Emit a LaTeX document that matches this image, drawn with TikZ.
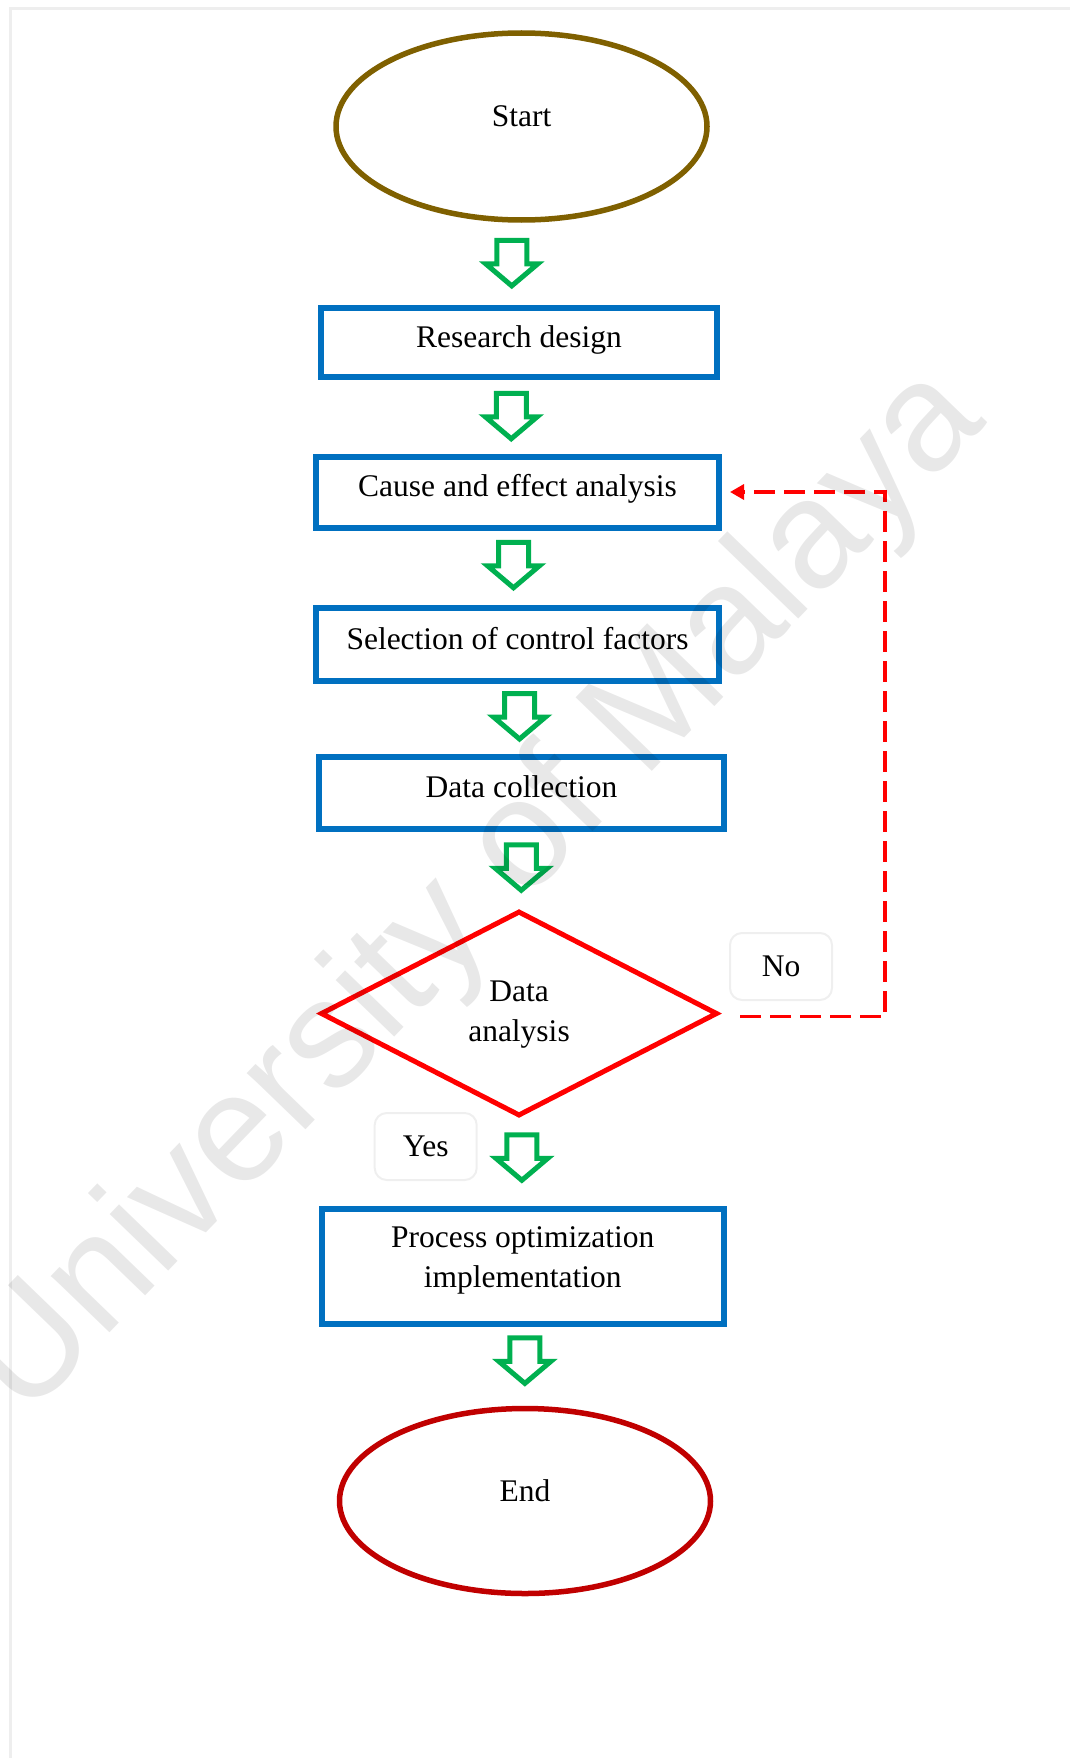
\documentclass[tikz,border=0pt]{standalone}
\usepackage{fontspec}
\setmainfont{Liberation Serif}
\newfontfamily\wmfont{Liberation Sans}
\usetikzlibrary{shapes.geometric, arrows.meta, positioning, calc}

\definecolor{startbrown}{HTML}{7F6000}
\definecolor{endred}{HTML}{C00000}
\definecolor{boxblue}{HTML}{0070C0}
\definecolor{arrgreen}{HTML}{00B050}
\definecolor{framegray}{HTML}{EEEEEE}
\definecolor{taggray}{HTML}{EFEFEF}

\tikzset{
  dnarrow/.pic={
    \draw[arrgreen, line width=5pt, line join=miter]
      (-15,-23.5) -- (15,-23.5) -- (15,0) -- (26,0) -- (0,22) -- (-26,0) -- (-15,0) -- cycle;
  }
}

\begin{document}
\begin{tikzpicture}[x=1pt, y=-1pt,
  every node/.style={font=\fontsize{31.5}{40}\selectfont},
  term/.style={ellipse, line width=5.5pt, minimum width=371pt, minimum height=187pt, inner sep=0pt, text height=25pt, text depth=24pt},
  box/.style={draw=boxblue, line width=6pt, minimum width=403pt, minimum height=72pt, inner sep=0pt, text height=24pt, text depth=15pt},
  tag/.style={draw=taggray, rounded corners=12pt, line width=2pt, minimum width=102pt, minimum height=67pt, inner sep=0pt},
  fback/.style={red, line width=3.3pt, dash pattern=on 21pt off 9pt, -{Triangle[length=14pt, width=15pt]}}]
\useasboundingbox (0,0) rectangle (1070,1758);
\draw[framegray, line width=3pt] (10,1758) -- (10,9) -- (1070,9);

\node (start) [term, draw=startbrown] at (521.5,126.5) {Start};
\node (design) [box, minimum width=396pt, minimum height=69pt] at (519,342.5) {Research design};
\node (cause) [box, minimum height=71pt] at (517.5,492) {Cause and effect analysis};
\node (select) [box, minimum height=73pt] at (517.5,644.5) {Selection of control factors};
\node (collect) [box, minimum width=405pt] at (521.5,793) {Data collection};
\node (analysis) [diamond, draw=red, line width=5pt, minimum width=397pt, minimum height=205pt, inner sep=0pt, aspect=2] at (519,1013.5) {\begin{tabular}{@{}c@{}}Data\\analysis\end{tabular}};
\node (no) [tag] at (781,966.5) {No};
\node (yes) [tag] at (425.7,1146.5) {Yes};
\node (impl) [box, minimum width=402pt, minimum height=115pt, text height=20pt, text depth=22pt] at (522.7,1266.5) {\begin{tabular}{@{}c@{}}Process optimization\\implementation\end{tabular}};
\node (finish) [term, draw=endred, minimum height=185pt] at (525,1501) {End};

\pic at ($(start.south)!.5!(design.north)+(-8.5,0)$) {dnarrow};
\pic at ($(design.south)!.5!(cause.north)+(-7,0)$) {dnarrow};
\pic at ($(cause.south)!.5!(select.north)+(-4,-2)$) {dnarrow};
\pic at ($(select.south)!.5!(collect.north)+(0,-2)$) {dnarrow};
\pic at ($(collect.south)!.5!(analysis.north)+(1,-2)$) {dnarrow};
\pic at ($(analysis.south)!.5!(impl.north)+(1,-4)$) {dnarrow};
\pic at ($(impl.south)!.5!(finish.north)+(1,-5)$) {dnarrow};

\draw[fback] ([xshift=20pt,yshift=-3pt]analysis.east) -- ++(145,0) |- ([xshift=8pt]cause.east);

% watermark
\node (wm) [font=\wmfont\fontsize{154}{154}\selectfont, rotate=46, text=black, text opacity=0.09] at (478,894) {University of Malaya};
\end{tikzpicture}
\end{document}
